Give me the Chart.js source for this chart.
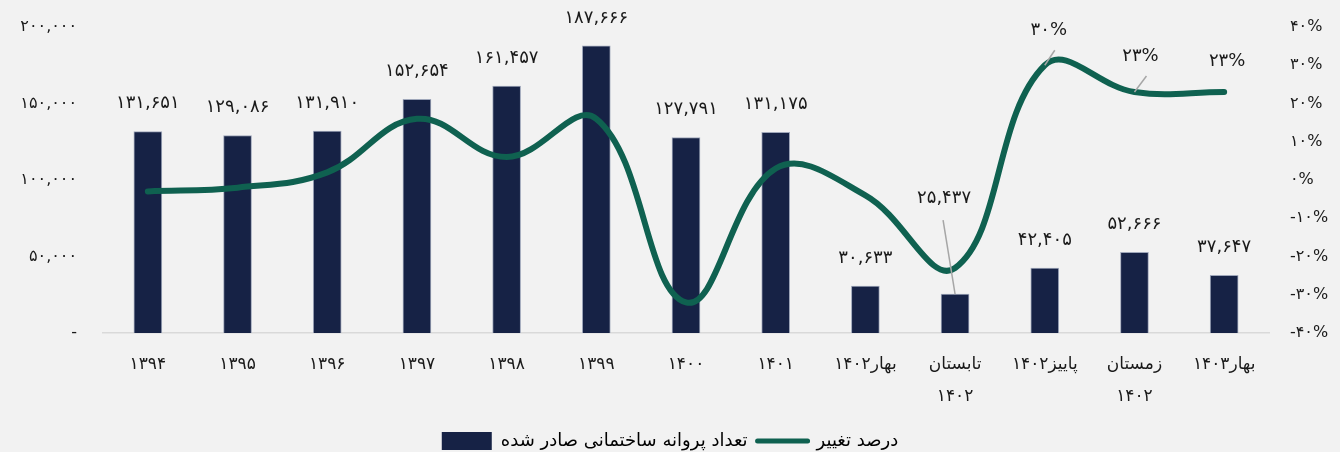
<!DOCTYPE html>
<html lang="fa">
<head>
<meta charset="utf-8">
<script src="https://cdn.jsdelivr.net/npm/chart.js@4.4.1/dist/chart.umd.min.js"></script>
<style>
  html, body { margin: 0; padding: 0; background: #f2f2f2; }
  #wrap { width: 1340px; height: 452px; }
</style>
</head>
<body>
<div id="wrap"><canvas id="permitChart"></canvas></div>
<script>
// x categories (years, then seasons of 1402/1403)
const categories = [
    '۱۳۹۴', '۱۳۹۵', '۱۳۹۶', '۱۳۹۷', '۱۳۹۸', '۱۳۹۹', '۱۴۰۰', '۱۴۰۱',
    'بهار۱۴۰۲', ['تابستان', '۱۴۰۲'], 'پاییز۱۴۰۲', ['زمستان', '۱۴۰۲'], 'بهار۱۴۰۳'
];
// issued building permits
const permits = [131651, 129086, 131910, 152654, 161457, 187666, 127791, 131175,
                 30633, 25437, 42405, 52666, 37647];
// percent change
const changePct = [-3, -2, 2, 16, 6, 16, -32, 3, -4, -23, 30, 23, 23];
const leftTicks = [0, 50000, 100000, 150000, 200000];
const rightTicks = [-40, -30, -20, -10, 0, 10, 20, 30, 40];
const seriesNames = ['تعداد پروانه ساختمانی صادر شده', 'درصد تغییر'];

const FONT = '"DejaVu Sans", sans-serif';
const TEXT = '#1a1a1a';

function fa(str) {
    return String(str).replace(/\d/g, d => '۰۱۲۳۴۵۶۷۸۹'[d]);
}
function faNum(n) {
    return fa(n.toLocaleString('en-US'));
}

// data labels on bars and on the last points of the line
const valueLabels = {
    id: 'valueLabels',
    afterDatasetsDraw(chart) {
        const ctx = chart.ctx;
        const bars = chart.getDatasetMeta(0).data;
        const pts = chart.getDatasetMeta(1).data;
        ctx.save();
        ctx.font = '18px ' + FONT;
        ctx.fillStyle = TEXT;
        ctx.textAlign = 'center';
        ctx.textBaseline = 'middle';
        ctx.strokeStyle = '#a6a6a6';
        ctx.lineWidth = 1.5;

        bars.forEach((bar, i) => {
            let x = bar.x, y = bar.y - 28;
            if (i === 9) {
                // label pushed up with leader line
                x = bar.x - 11;
                y = bar.y - 96;
                ctx.beginPath();
                ctx.moveTo(x - 1, y + 22);
                ctx.lineTo(bar.x, bar.y);
                ctx.stroke();
            }
            ctx.fillText(faNum(permits[i]), x, y);
        });

        // only the last three percentages are labelled
        const pctLabels = [
            { i: 10, dx: 4, dy: -35, leader: true },
            { i: 11, dx: 6, dy: -36, leader: true },
            { i: 12, dx: 3, dy: -31, leader: false }
        ];
        pctLabels.forEach(l => {
            const p = pts[l.i];
            const x = p.x + l.dx, y = p.y + l.dy;
            if (l.leader) {
                ctx.beginPath();
                ctx.moveTo(x + 6, y + 20);
                ctx.lineTo(p.x, p.y);
                ctx.stroke();
            }
            ctx.fillText(fa(changePct[l.i]) + '%', x, y);
        });
        ctx.restore();
    }
};

new Chart(document.getElementById('permitChart'), {
    data: {
        labels: categories,
        datasets: [
            {
                type: 'bar',
                label: seriesNames[0],
                data: permits,
                yAxisID: 'y',
                backgroundColor: '#162245',
                borderColor: 'rgba(150, 158, 180, 0.9)',
                borderWidth: 1,
                barThickness: 28,
                order: 2
            },
            {
                type: 'line',
                label: seriesNames[1],
                data: changePct,
                yAxisID: 'y1',
                borderColor: '#0f6150',
                backgroundColor: '#0f6150',
                borderWidth: 6,
                borderCapStyle: 'round',
                tension: 0.4,
                pointRadius: 0,
                order: 1
            }
        ]
    },
    options: {
        responsive: true,
        maintainAspectRatio: false,
        animation: false,
        layout: { padding: { top: 27, bottom: -8, left: 0, right: 0 } },
        scales: {
            x: {
                grid: { display: false, drawTicks: false },
                border: { display: true, color: '#d9d9d9', width: 1.5 },
                ticks: {
                    color: TEXT,
                    font: { family: FONT, size: 17, lineHeight: 1.85 },
                    padding: 16,
                    maxRotation: 0,
                    autoSkip: false
                },
                afterFit(axis) { axis.height = 89; }
            },
            y: {
                position: 'left',
                min: 0,
                max: 200000,
                grid: { display: false, drawTicks: false },
                border: { display: false },
                afterBuildTicks(axis) { axis.ticks = leftTicks.map(v => ({ value: v })); },
                ticks: {
                    color: TEXT,
                    font: { family: FONT, size: 16 },
                    padding: 26,
                    callback: v => v === 0 ? '-' : faNum(v)
                },
                afterFit(axis) {
                    axis.width = 103;
                    axis.paddingTop = 0;
                    axis.paddingBottom = 0;
                }
            },
            y1: {
                position: 'right',
                min: -40,
                max: 40,
                grid: { display: false, drawTicks: false },
                border: { display: false },
                afterBuildTicks(axis) { axis.ticks = rightTicks.map(v => ({ value: v })); },
                ticks: {
                    color: TEXT,
                    font: { family: FONT, size: 16 },
                    padding: 21,
                    callback: v => fa(v) + '%'
                },
                afterFit(axis) {
                    axis.width = 71;
                    axis.paddingTop = 0;
                    axis.paddingBottom = 0;
                }
            }
        },
        plugins: {
            legend: {
                position: 'bottom',
                labels: {
                    color: TEXT,
                    font: { family: FONT, size: 18 },
                    usePointStyle: true,
                    pointStyleWidth: 50,
                    boxHeight: 18,
                    padding: 10,
                    generateLabels(chart) {
                        return [
                            {
                                text: seriesNames[0],
                                fillStyle: '#162245',
                                strokeStyle: '#162245',
                                lineWidth: 0,
                                pointStyle: 'rect',
                                datasetIndex: 0
                            },
                            {
                                text: seriesNames[1],
                                fillStyle: '#0f6150',
                                strokeStyle: '#0f6150',
                                lineWidth: 5,
                                lineCap: 'round',
                                pointStyle: 'line',
                                datasetIndex: 1
                            }
                        ];
                    }
                }
            },
            tooltip: { enabled: false }
        }
    },
    plugins: [valueLabels]
});
</script>
</body>
</html>
